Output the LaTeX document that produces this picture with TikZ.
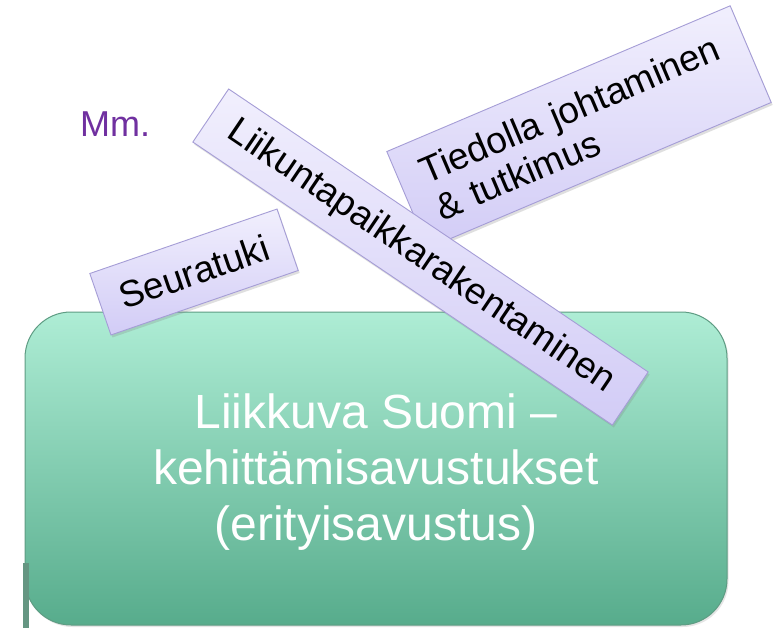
\documentclass[tikz,border=0pt]{standalone}
\usepackage{fontspec}
\setmainfont{Liberation Sans}
\usetikzlibrary{shadows}
\definecolor{lavtop}{HTML}{F1EFFD}
\definecolor{lavbot}{HTML}{D2CCF6}
\definecolor{lavedge}{HTML}{A59DD6}
\definecolor{grtop}{HTML}{AEEDD5}
\definecolor{grbot}{HTML}{57AC8C}
\definecolor{gredge}{HTML}{5E9C83}
\definecolor{mmpurple}{HTML}{7030A0}
\begin{document}
\begin{tikzpicture}[x=1pt,y=-1pt,
  tag/.style={draw=lavedge, line width=0.9pt, top color=lavtop, bottom color=lavbot,
    inner sep=0pt, anchor=center, font=\fontsize{37}{40}\selectfont,
    drop shadow={opacity=0.25, shadow xshift=1.5pt, shadow yshift=-2.5pt}},
  mainbox/.style={draw=gredge, line width=1pt, top color=grtop, bottom color=grbot,
    rounded corners=46pt, inner sep=0pt, anchor=center,
    drop shadow={opacity=0.2, shadow xshift=1.5pt, shadow yshift=-2pt}},
  maintext/.style={text=white, align=center, font=\fontsize{48}{56}\selectfont},
  bar/.style={fill=gredge!80!gray, draw=none}]
\useasboundingbox (0,0) rectangle (773,628);
\fill[white] (0,0) rectangle (773,628);
% main green box
\node[mainbox, minimum width=702pt, minimum height=313pt] (main) at (376,468.5) {};
\node[maintext] (maintxt) at (376,472) {Liikkuva Suomi –\\kehittämisavustukset\\(erityisavustus)};
\fill[bar] (23,563) rectangle (28.5,628);
% Mm.
\node[text=mmpurple, font=\fontsize{36}{40}\selectfont, inner sep=0pt, anchor=base west] (mm) at (80,137) {Mm.};
% tags
\node[tag, minimum width=198pt, minimum height=65pt, rotate=19] (seura) at (194,272) {Seuratuki};
\node[tag, minimum width=373pt, minimum height=105pt, rotate=23, align=left, text width=325pt] (tieto) at (579,127) {Tiedolla johtaminen\\\& tutkimus};
\node[tag, minimum width=506pt, minimum height=64pt, rotate=-34] (liikunta) at (420.5,257) {Liikuntapaikkarakentaminen};
\end{tikzpicture}
\end{document}
